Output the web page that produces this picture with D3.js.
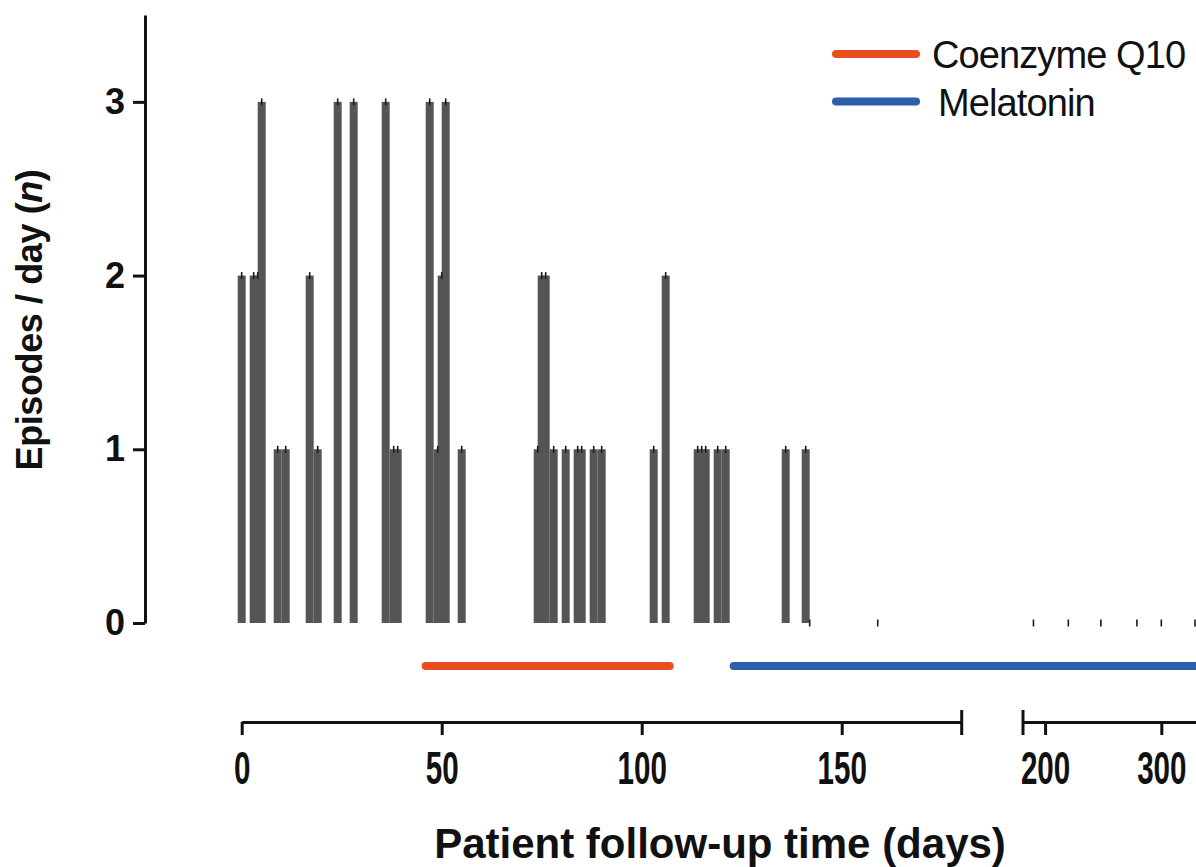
<!DOCTYPE html>
<html>
<head>
<meta charset="utf-8">
<script src="https://cdn.jsdelivr.net/npm/d3@7"></script>
<style>
  body { margin: 0; background: #fff; }
  svg text { font-family: "Liberation Sans", Arial, sans-serif; fill: #111; }
</style>
</head>
<body>
<div id="chart-area"></div>
<script>
// follow-up day and number of episodes recorded that day
const days     = [0, 3, 4, 5, 9, 11, 17, 19, 24, 28, 36, 38, 39, 47, 49, 50, 51, 55,
                  74, 75, 76, 78, 81, 84, 85, 88, 90, 103, 106, 114, 115, 116, 119, 121,
                  136, 141, 142, 159, 190, 220, 248, 279, 300, 329]
const episodes = [2, 2, 2, 3, 1, 1, 2, 1, 3, 3, 3, 1, 1, 3, 1, 2, 3, 1,
                  1, 2, 2, 1, 1, 1, 1, 1, 1, 1, 2, 1, 1, 1, 1, 1,
                  1, 1, 0, 0, 0, 0, 0, 0, 0, 0]

// treatment periods (days)
const coq10Period = [46, 107]
const melatoninPeriod = [123, 335]
const treatments = ["Coenzyme Q10", "Melatonin"]
const treatmentColors = ["#e84e1f", "#2c5faa"]

const yTicks = [0, 1, 2, 3]
const xTicksA = [0, 50, 100, 150]
const xTicksB = [200, 300]

const W = 1196, H = 867

const svg = d3.select("#chart-area").append("svg")
  .attr("width", W)
  .attr("height", H)

// broken x axis: two linear segments
const xA = d3.scaleLinear().domain([0, 180]).range([241.7, 961.7])
const xB = d3.scaleLinear().domain([181, 335]).range([1023, 1202])
const x = d => d <= 180 ? xA(d) : xB(d)

const y = d3.scaleLinear().domain([0, 3.5]).range([623, 15])

const BAR_W = xA(2) - xA(0)

const data = days.map((d, i) => ({ day: d, n: episodes[i] }))

// bars
svg.append("g")
  .selectAll("rect")
  .data(data.filter(d => d.n > 0))
  .join("rect")
    .attr("x", d => x(d.day) - BAR_W / 2)
    .attr("width", BAR_W)
    .attr("y", d => y(d.n))
    .attr("height", d => y(0) - y(d.n))
    .attr("fill", "#565457")

// small marks at each data point
svg.append("g")
  .selectAll("line")
  .data(data)
  .join("line")
    .attr("x1", d => x(d.day))
    .attr("x2", d => x(d.day))
    .attr("y1", d => y(d.n) - 3.5)
    .attr("y2", d => y(d.n) + 3.5)
    .attr("stroke", "#1a1a1a")
    .attr("stroke-width", 1.6)

// treatment lines under the bars
const periods = [coq10Period, melatoninPeriod]
svg.append("g")
  .selectAll("line")
  .data(periods)
  .join("line")
    .attr("x1", d => x(d[0]))
    .attr("x2", d => x(d[1]))
    .attr("y1", 666)
    .attr("y2", 666)
    .attr("stroke", (d, i) => treatmentColors[i])
    .attr("stroke-width", 8)
    .attr("stroke-linecap", "round")

// Y axis
const gy = svg.append("g")
  .attr("transform", "translate(145,0)")
  .call(d3.axisLeft(y).tickValues(yTicks).tickSize(12).tickSizeOuter(0).tickPadding(8).tickFormat(d3.format("d")))
gy.select(".domain").attr("stroke-width", 3).attr("stroke", "#111")
gy.selectAll(".tick line").attr("stroke-width", 3).attr("stroke", "#111")
gy.selectAll(".tick text")
  .style("font-size", "36px")
  .style("font-weight", "bold")

// X axis, two segments
const AXIS_Y = 722
const gxA = svg.append("g")
  .attr("transform", `translate(0,${AXIS_Y})`)
  .call(d3.axisBottom(xA).tickValues(xTicksA).tickSize(13).tickSizeOuter(0).tickPadding(16))
const gxB = svg.append("g")
  .attr("transform", `translate(0,${AXIS_Y})`)
  .call(d3.axisBottom(xB).tickValues(xTicksB).tickSize(13).tickSizeOuter(0).tickPadding(16))

;[gxA, gxB].forEach(g => {
  g.select(".domain").attr("stroke-width", 3).attr("stroke", "#111")
  g.selectAll(".tick line").attr("stroke-width", 3).attr("stroke", "#111")
  g.selectAll(".tick text")
    .style("font-size", "47px")
    .style("font-weight", "bold")
    .attr("transform", "scale(0.63,1)")
})

// end caps of the break
svg.append("g")
  .selectAll("line")
  .data([xA(180), xB(181)])
  .join("line")
    .attr("x1", d => d)
    .attr("x2", d => d)
    .attr("y1", AXIS_Y - 12)
    .attr("y2", AXIS_Y + 13)
    .attr("stroke", "#111")
    .attr("stroke-width", 3)

// axis titles
svg.append("text")
  .attr("x", 720)
  .attr("y", 858)
  .attr("text-anchor", "middle")
  .style("font-size", "42px")
  .style("font-weight", "bold")
  .text("Patient follow-up time (days)")

const yLabel = svg.append("text")
  .attr("transform", "translate(42,320) rotate(-90)")
  .attr("text-anchor", "middle")
  .style("font-size", "36px")
  .style("font-weight", "bold")
  .style("letter-spacing", "-0.4px")
yLabel.append("tspan").text("Episodes / day (")
yLabel.append("tspan").style("font-style", "italic").text("n")
yLabel.append("tspan").text(")")

// legend
const legend = svg.append("g")
  .selectAll("g")
  .data(treatments)
  .join("g")
    .attr("transform", (d, i) => `translate(0,${54 + i * 47.5})`)
legend.append("line")
  .attr("x1", 836).attr("x2", 916)
  .attr("stroke", (d, i) => treatmentColors[i])
  .attr("stroke-width", 8)
  .attr("stroke-linecap", "round")
legend.append("text")
  .attr("x", (d, i) => i === 0 ? 932 : 938)
  .attr("y", 14)
  .style("font-size", "38px")
  .style("letter-spacing", "-0.9px")
  .text(d => d)
</script>
</body>
</html>
